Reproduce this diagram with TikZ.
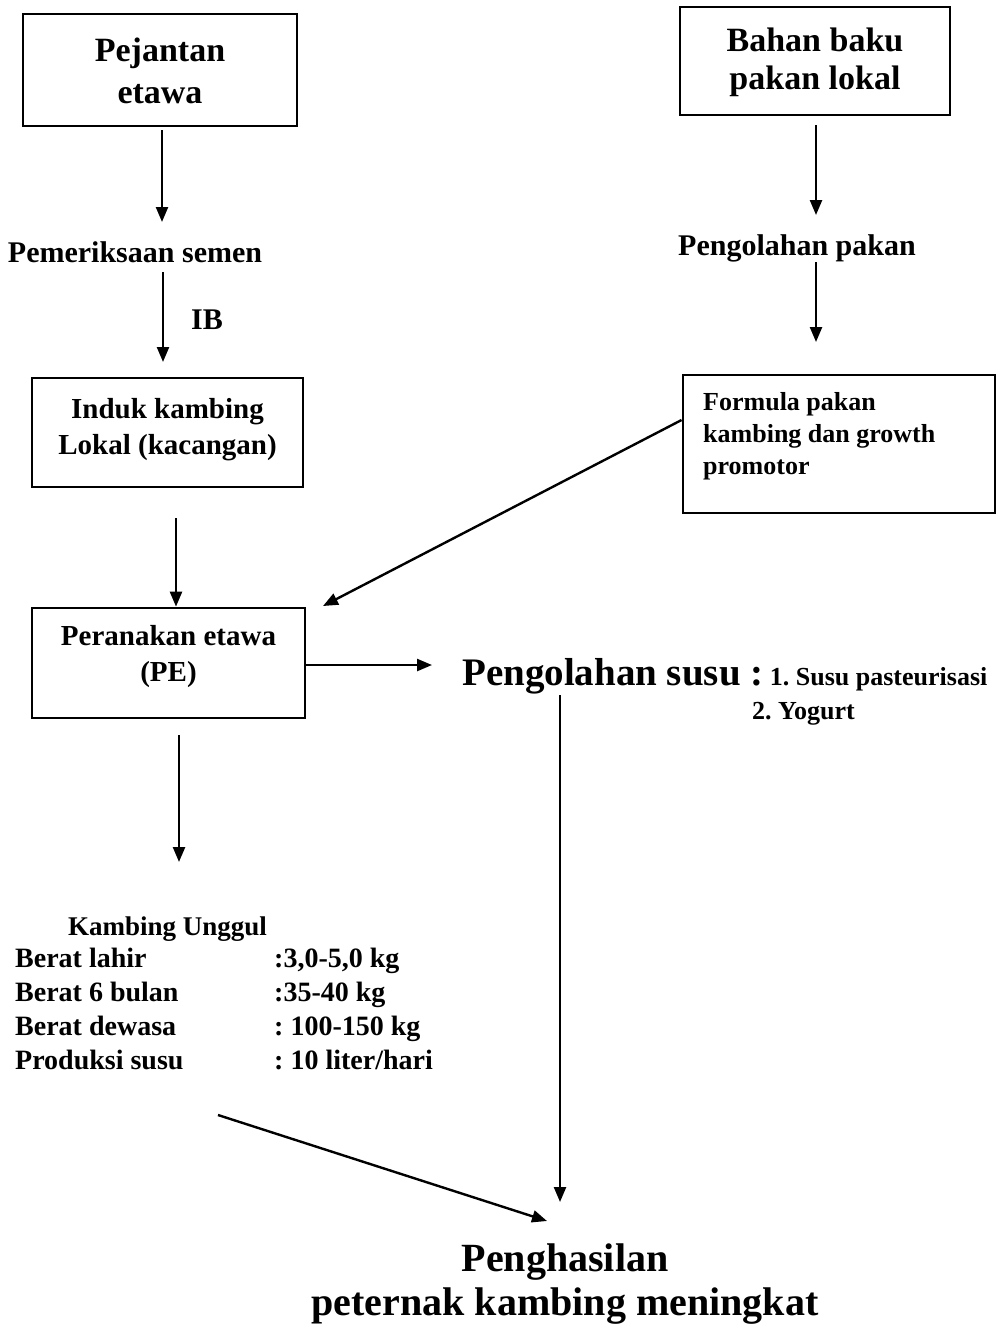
\documentclass[tikz,border=0pt]{standalone}
\usepackage{fontspec}
\setmainfont{Liberation Serif}
\usetikzlibrary{arrows.meta}
\tikzset{
  box/.style={draw, line width=2.8pt, inner sep=0pt},
  arr/.style={line width=2.4pt, -{Triangle[length=15pt,width=12pt]}},
  txt/.style={inner sep=0pt, font=\bfseries},
}
\newcommand{\fs}[1]{\fontsize{#1}{#1}\selectfont}
\frenchspacing
\begin{document}
\begin{tikzpicture}[x=1pt,y=-1pt]
\useasboundingbox (0,0) rectangle (1002,1328);
% boxes
\node[box, minimum width=274pt, minimum height=112pt] (pej) at (160,70) {};
\node[txt, align=center, font=\bfseries\fs{34}] (pejt) at (160,71) {Pejantan\\[8pt]etawa};
\node[box, minimum width=270pt, minimum height=108pt] (bah) at (815,61) {};
\node[txt, align=center, font=\bfseries\fs{34}] (baht) at (815,62) {Bahan baku\\[4pt]pakan lokal};
\node[box, minimum width=271pt, minimum height=109pt] (ind) at (167.5,432.5) {};
\node[txt, align=center, font=\bfseries\fs{29}] (indt) at (167.5,430) {Induk kambing\\[7pt]Lokal (kacangan)};
\node[box, minimum width=312pt, minimum height=138pt] (for) at (839,444) {};
\node[txt, align=left, anchor=north west, font=\bfseries\fs{26}] (fort) at (703,392) {Formula pakan\\[6pt]kambing dan growth\\[6pt]promotor};
\node[box, minimum width=273pt, minimum height=110pt] (pe) at (168.5,663) {};
\node[txt, align=center, font=\bfseries\fs{29}] (pet) at (168.5,657) {Peranakan etawa\\[7pt](PE)};
% plain texts
\node[txt, font=\bfseries\fs{30}] (pem) at (135,252) {Pemeriksaan semen};
\node[txt, font=\bfseries\fs{30}] (ib) at (207,320) {IB};
\node[txt, font=\bfseries\fs{30}] (pak) at (797,248) {Pengolahan pakan};
\node[txt, anchor=base west] (susu) at (462,685) {\fs{39}Pengolahan susu :\fs{26} 1. Susu pasteurisasi};
\node[txt, anchor=base west, font=\bfseries\fs{26}] (yog) at (752,719) {2. Yogurt};
\node[txt, anchor=base west, font=\bfseries\fs{27}] (ku) at (68,935) {Kambing Unggul};
\node[txt, anchor=base west, font=\bfseries\fs{28}] (r1) at (15,967) {Berat lahir};
\node[txt, anchor=base west, font=\bfseries\fs{28}] (r2) at (15,1001) {Berat 6 bulan};
\node[txt, anchor=base west, font=\bfseries\fs{28}] (r3) at (15,1035) {Berat dewasa};
\node[txt, anchor=base west, font=\bfseries\fs{28}] (r4) at (15,1069) {Produksi susu};
\node[txt, anchor=base west, font=\bfseries\fs{28}] (v1) at (274,967) {:3,0-5,0 kg};
\node[txt, anchor=base west, font=\bfseries\fs{28}] (v2) at (274,1001) {:35-40 kg};
\node[txt, anchor=base west, font=\bfseries\fs{28}] (v3) at (274,1035) {: 100-150 kg};
\node[txt, anchor=base west, font=\bfseries\fs{28}] (v4) at (274,1069) {: 10 liter/hari};
\node[txt, font=\bfseries\fs{40}] (hasil1) at (565,1262) {Penghasilan};
\node[txt, font=\bfseries\fs{40}] (hasil2) at (565,1306) {peternak kambing meningkat};
% connector ends
\coordinate (c1a) at (162,130); \coordinate (c1b) at (162,222);
\coordinate (c2a) at (163,272); \coordinate (c2b) at (163,362);
\coordinate (c3a) at (176,518);
\coordinate (c4a) at (179,735); \coordinate (c4b) at (179,862);
\coordinate (c5a) at (816,125); \coordinate (c5b) at (816,215);
\coordinate (c6a) at (816,262); \coordinate (c6b) at (816,342);
\coordinate (c7b) at (323,606);
\coordinate (c8b) at (432,665);
\coordinate (c9a) at (560,695); \coordinate (c9b) at (560,1202);
\coordinate (c10a) at (218,1115); \coordinate (c10b) at (547,1221);
% connectors
\draw[arr] (c1a) -- (c1b);
\draw[arr] (c2a) -- (c2b);
\draw[arr] (c3a) -- (c3a |- pe.north);
\draw[arr] (c4a) -- (c4b);
\draw[arr] (c5a) -- (c5b);
\draw[arr] (c6a) -- (c6b);
\draw[arr] (for.west |- 0,420) -- (c7b);
\draw[arr] (pe.east |- c8b) -- (c8b);
\draw[arr] (c9a) -- (c9b);
\draw[arr] (c10a) -- (c10b);
\end{tikzpicture}
\end{document}
